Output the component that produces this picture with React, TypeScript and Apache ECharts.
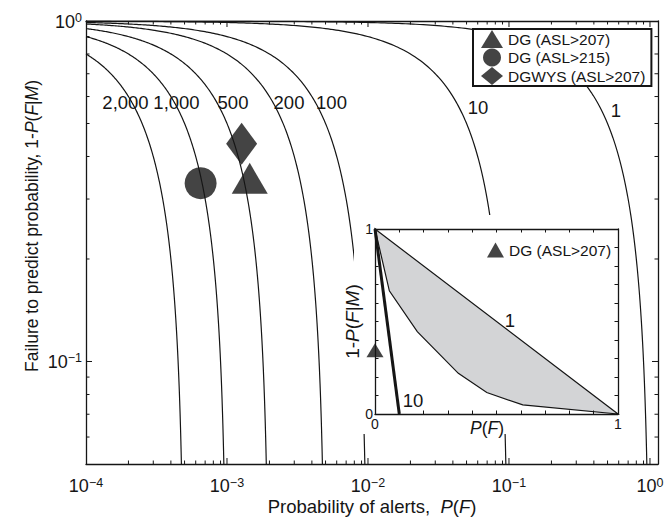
import React, { useEffect, useRef } from 'react';
import * as echarts from 'echarts';

// Probability-gain contours: 1 - P(F|M) = 1 - G * P(F)
const gains = [2000, 1000, 500, 200, 100, 10, 1];
const gainLabels = ['2,000', '1,000', '500', '200', '100', '10', '1'];

// Observed alert performance (P(F), 1 - P(F|M))
const dgAsl207 = [[1.45e-3, 0.345]];
const dgAsl215 = [[6.5e-4, 0.334]];
const dgwysAsl207 = [[1.27e-3, 0.436]];

// Inset (linear axes): shaded band between gain 1 and the lower boundary
const insetBand = [
  [0, 1], [1, 0], [0.608, 0.049], [0.46, 0.116], [0.343, 0.22], [0.174, 0.445], [0.059, 0.666], [0, 1],
];
const insetGain10 = [[0, 1], [0.1, 0]];
const insetDg207 = [[0, 0.345]];

// Axis ranges
const X_MIN = 1e-4;
const X_MAX = 1.14;
const Y_MIN = 0.05;
const Y_MAX = 1;
const xDecadeStarts = [1e-4, 1e-3, 1e-2, 1e-1];
const xMajorTicks = [1e-3, 1e-2, 1e-1, 1];
const yMajorTicks = [0.1];
const yMinorTicks = [0.06, 0.07, 0.08, 0.09, 0.2, 0.3, 0.4, 0.5, 0.6, 0.7, 0.8, 0.9];

const FONT = '"Liberation Sans", Arial, Helvetica, sans-serif';
const INK = '#151515';

function powerLabel(v: number): string {
  const e = Math.log10(v);
  const r = Math.round(e);
  if (Math.abs(e - r) > 1e-6) return '';
  return '{b|10}{s|' + String(r).replace('-', '\u2212') + '}';
}

const powerRich = {
  b: { fontSize: 18, lineHeight: 19, verticalAlign: 'bottom', fontFamily: FONT, color: INK },
  s: { fontSize: 12.5, lineHeight: 12, verticalAlign: 'top', fontFamily: FONT, color: INK },
};

// Contour sample points, dense both along log x and log y
function contour(g: number): number[][] {
  const xEnd = 0.97 / g;
  const pts: number[][] = [];
  const n = 160;
  const lx0 = Math.log10(X_MIN);
  const lx1 = Math.log10(xEnd);
  for (let i = 0; i <= n; i++) {
    const x = Math.pow(10, lx0 + ((lx1 - lx0) * i) / n);
    pts.push([x, 1 - g * x]);
  }
  const yStart = 1 - g * X_MIN;
  const ly0 = Math.log10(yStart);
  const ly1 = Math.log10(0.03);
  for (let i = 1; i < n; i++) {
    const y = Math.pow(10, ly0 + ((ly1 - ly0) * i) / n);
    pts.push([(1 - y) / g, y]);
  }
  pts.sort((a, b) => a[0] - b[0]);
  return pts;
}

// Tick records: [x, y, isMajor, direction(0 = x tick, 1 = y tick)]
function tickData(): number[][] {
  const out: number[][] = [];
  xDecadeStarts.forEach((d) => {
    for (let k = 2; k <= 9; k++) out.push([d * k, Y_MIN, 0, 0]);
  });
  xMajorTicks.forEach((v) => out.push([v, Y_MIN, 1, 0]));
  yMinorTicks.forEach((v) => out.push([X_MIN, v, 0, 1]));
  yMajorTicks.forEach((v) => out.push([X_MIN, v, 1, 1]));
  return out;
}

const curveLabelPos: number[][] = [
  [125.5, 102], [176.5, 102], [233, 102], [289, 102], [331.5, 102], [478, 107], [616, 110],
];

export default function App() {
  const ref = useRef<HTMLDivElement>(null);

  useEffect(() => {
    if (!ref.current) return;
    const chart = echarts.init(ref.current, undefined, { renderer: 'svg' });

    const axisLineStyle = { color: INK, width: 1.3 };
    const italic = { fontStyle: 'italic', fontFamily: FONT, fontSize: 18.5, color: INK };
    const italicInsetX = { fontStyle: 'italic', fontFamily: FONT, fontSize: 17.5, color: INK };
    const italicInsetY = { fontStyle: 'italic', fontFamily: FONT, fontSize: 19, color: INK };

    const curveSeries = gains.map((g) => ({
      type: 'line',
      name: 'G' + g,
      xAxisIndex: 0,
      yAxisIndex: 0,
      data: contour(g),
      showSymbol: false,
      symbol: 'none',
      silent: true,
      lineStyle: { color: INK, width: 1.2 },
      z: 2,
    }));

    const option: any = {
      animation: false,
      backgroundColor: '#fff',
      textStyle: { fontFamily: FONT },
      grid: [
        { left: 86, top: 21, right: 13, bottom: 49 },
        { left: 375, top: 229, width: 243, height: 185 },
      ],
      xAxis: [
        {
          type: 'log', gridIndex: 0, logBase: 10, min: X_MIN, max: X_MAX,
          axisLine: { show: true, onZero: false, lineStyle: axisLineStyle },
          axisTick: { show: false }, splitLine: { show: false },
          axisLabel: { formatter: powerLabel, rich: powerRich, margin: 12 },
          name: 'Probability of alerts,  {i|P}({i|F})',
          nameLocation: 'middle', nameGap: 33, nameMoveOverlap: false,
          nameTextStyle: { fontSize: 18.5, color: INK, fontFamily: FONT, rich: { i: italic } },
        },
        {
          type: 'log', gridIndex: 0, logBase: 10, min: X_MIN, max: X_MAX, position: 'top',
          axisLine: { show: true, onZero: false, lineStyle: axisLineStyle },
          axisTick: { show: false }, axisLabel: { show: false }, splitLine: { show: false },
        },
        {
          type: 'value', gridIndex: 1, min: 0, max: 1, interval: 0.1, z: 10,
          axisLine: { show: true, onZero: false, lineStyle: axisLineStyle },
          axisTick: { show: true, inside: true, length: 3.5, lineStyle: { color: INK, width: 1 } },
          splitLine: { show: false },
          axisLabel: {
            formatter: (v: number) => (v === 0 || v === 1 ? String(v) : ''),
            fontSize: 14, color: INK, fontFamily: FONT, margin: 3,
          },
          name: '{i|P}({i|F})', nameLocation: 'middle', nameGap: 5, nameMoveOverlap: false,
          nameTextStyle: {
            fontSize: 17.5, color: INK, fontFamily: FONT, padding: [0, 19, 0, 0],
            rich: { i: italicInsetX },
          },
        },
        {
          type: 'value', gridIndex: 1, min: 0, max: 1, interval: 0.1, position: 'top', z: 10,
          axisLine: { show: true, onZero: false, lineStyle: axisLineStyle },
          axisTick: { show: true, inside: true, length: 3.5, lineStyle: { color: INK, width: 1 } },
          axisLabel: { show: false }, splitLine: { show: false },
        },
      ],
      yAxis: [
        {
          type: 'log', gridIndex: 0, logBase: 10, min: Y_MIN, max: Y_MAX,
          axisLine: { show: true, onZero: false, lineStyle: axisLineStyle },
          axisTick: { show: false }, splitLine: { show: false },
          axisLabel: { formatter: powerLabel, rich: powerRich, margin: 4 },
        },
        {
          type: 'log', gridIndex: 0, logBase: 10, min: Y_MIN, max: Y_MAX, position: 'right',
          axisLine: { show: true, onZero: false, lineStyle: axisLineStyle },
          axisTick: { show: false }, axisLabel: { show: false }, splitLine: { show: false },
        },
        {
          type: 'value', gridIndex: 1, min: 0, max: 1, interval: 0.1, z: 10,
          axisLine: { show: true, onZero: false, lineStyle: axisLineStyle },
          axisTick: { show: true, inside: true, length: 3.5, lineStyle: { color: INK, width: 1 } },
          splitLine: { show: false },
          axisLabel: {
            formatter: (v: number) => (v === 0 || v === 1 ? String(v) : ''),
            fontSize: 14, color: INK, fontFamily: FONT, margin: 2,
          },
          name: '1-{i|P}({i|F}|{i|M})', nameLocation: 'middle', nameGap: 13, nameMoveOverlap: false,
          nameTextStyle: { fontSize: 19, color: INK, fontFamily: FONT, rich: { i: italicInsetY } },
        },
        {
          type: 'value', gridIndex: 1, min: 0, max: 1, interval: 0.1, position: 'right', z: 10,
          axisLine: { show: true, onZero: false, lineStyle: axisLineStyle },
          axisTick: { show: true, inside: true, length: 3.5, lineStyle: { color: INK, width: 1 } },
          axisLabel: { show: false }, splitLine: { show: false },
        },
      ],
      legend: [
        {
          data: ['DG (ASL>207)', 'DG (ASL>215)', 'DGWYS (ASL>207)'],
          orient: 'vertical', left: 473, top: 29,
          backgroundColor: '#fff', borderColor: INK, borderWidth: 2,
          padding: [1, 6, 1, 8], itemWidth: 22, itemHeight: 18, itemGap: 0.5,
          textStyle: { fontSize: 15.5, color: INK, fontFamily: FONT },
          selectedMode: false, z: 6,
        },
        {
          data: ['DG (ASL>207)'],
          orient: 'vertical', left: 482, top: 242,
          padding: [0, 0, 0, 5], itemWidth: 17, itemHeight: 15,
          textStyle: { fontSize: 15.5, color: INK, fontFamily: FONT },
          selectedMode: false, z: 12,
        },
      ],
      graphic: [
        {
          type: 'rect', z: 5, silent: true,
          shape: { x: 354, y: 215, width: 274, height: 219 },
          style: { fill: '#fff' },
        },
        {
          type: 'text', z: 6, silent: true, x: 32, y: 226, rotation: Math.PI / 2,
          style: {
            text: 'Failure to predict probability, 1-{i|P}({i|F}|{i|M})',
            fontSize: 17.5, fontFamily: FONT, fill: INK, align: 'center', verticalAlign: 'middle',
            rich: { i: { fontStyle: 'italic', fontSize: 17.5, fontFamily: FONT, fill: INK } },
          },
        },
        ...gainLabels.map((t, i) => ({
          type: 'text', z: 4, silent: true, x: curveLabelPos[i][0], y: curveLabelPos[i][1],
          style: { text: t, fontSize: 18.5, fontFamily: FONT, fill: INK, align: 'center', verticalAlign: 'middle' },
        })),
        {
          type: 'text', z: 30, silent: true, x: 510, y: 320,
          style: { text: '1', fontSize: 18.5, fontFamily: FONT, fill: INK, align: 'center', verticalAlign: 'middle' },
        },
        {
          type: 'text', z: 30, silent: true, x: 413, y: 400,
          style: { text: '10', fontSize: 18.5, fontFamily: FONT, fill: INK, align: 'center', verticalAlign: 'middle' },
        },
      ],
      series: [
        ...curveSeries,
        {
          type: 'custom',
          name: 'ticks',
          xAxisIndex: 0,
          yAxisIndex: 0,
          silent: true,
          z: 3,
          dimensions: ['x', 'y', 'major', 'dir'],
          encode: { x: 0, y: 1 },
          data: tickData(),
          renderItem: (_params: any, api: any) => {
            const major = api.value(2) === 1;
            const dir = api.value(3);
            const len = major ? 6 : 3.5;
            const style = { stroke: INK, lineWidth: 1 };
            if (dir === 0) {
              const v = api.value(0);
              const b = api.coord([v, Y_MIN]);
              const t = api.coord([v, Y_MAX]);
              return {
                type: 'group',
                children: [
                  { type: 'line', shape: { x1: b[0], y1: b[1], x2: b[0], y2: b[1] - len }, style },
                  { type: 'line', shape: { x1: t[0], y1: t[1], x2: t[0], y2: t[1] + len }, style },
                ],
              };
            }
            const v = api.value(1);
            const l = api.coord([X_MIN, v]);
            const r = api.coord([X_MAX, v]);
            return {
              type: 'group',
              children: [
                { type: 'line', shape: { x1: l[0], y1: l[1], x2: l[0] + len, y2: l[1] }, style },
                { type: 'line', shape: { x1: r[0], y1: r[1], x2: r[0] - len, y2: r[1] }, style },
              ],
            };
          },
        },
        {
          type: 'scatter', name: 'DG (ASL>207)', xAxisIndex: 0, yAxisIndex: 0,
          data: dgAsl207, symbol: 'triangle', symbolSize: [36, 31],
          itemStyle: { color: INK }, z: 4,
        },
        {
          type: 'scatter', name: 'DG (ASL>215)', xAxisIndex: 0, yAxisIndex: 0,
          data: dgAsl215, symbol: 'circle', symbolSize: 32,
          itemStyle: { color: INK }, z: 4,
        },
        {
          type: 'scatter', name: 'DGWYS (ASL>207)', xAxisIndex: 0, yAxisIndex: 0,
          data: dgwysAsl207, symbol: 'diamond', symbolSize: [31, 42],
          itemStyle: { color: INK }, z: 4,
        },
        // Inset
        {
          type: 'custom', name: 'band', xAxisIndex: 2, yAxisIndex: 2, silent: true, z: 10,
          data: insetBand,
          renderItem: (params: any, api: any) => {
            if (params.dataIndex !== 0) return null;
            const pts = insetBand.map((p) => api.coord(p));
            return {
              type: 'polygon',
              shape: { points: pts },
              style: { fill: '#d3d4d6', stroke: INK, lineWidth: 1.2 },
            };
          },
        },
        {
          type: 'line', name: 'gain10', xAxisIndex: 2, yAxisIndex: 2, data: insetGain10,
          symbol: 'none', showSymbol: false, silent: true, z: 11,
          lineStyle: { color: INK, width: 3 },
        },
        {
          type: 'scatter', name: 'DG (ASL>207)', xAxisIndex: 2, yAxisIndex: 2,
          data: insetDg207, symbol: 'triangle', symbolSize: [17, 14], clip: false,
          itemStyle: { color: INK }, z: 12,
        },
      ],
    };

    chart.setOption(option);
    return () => chart.dispose();
  }, []);

  return <div ref={ref} style={{ position: 'absolute', left: 0, top: 0, width: 671, height: 521 }} />;
}
